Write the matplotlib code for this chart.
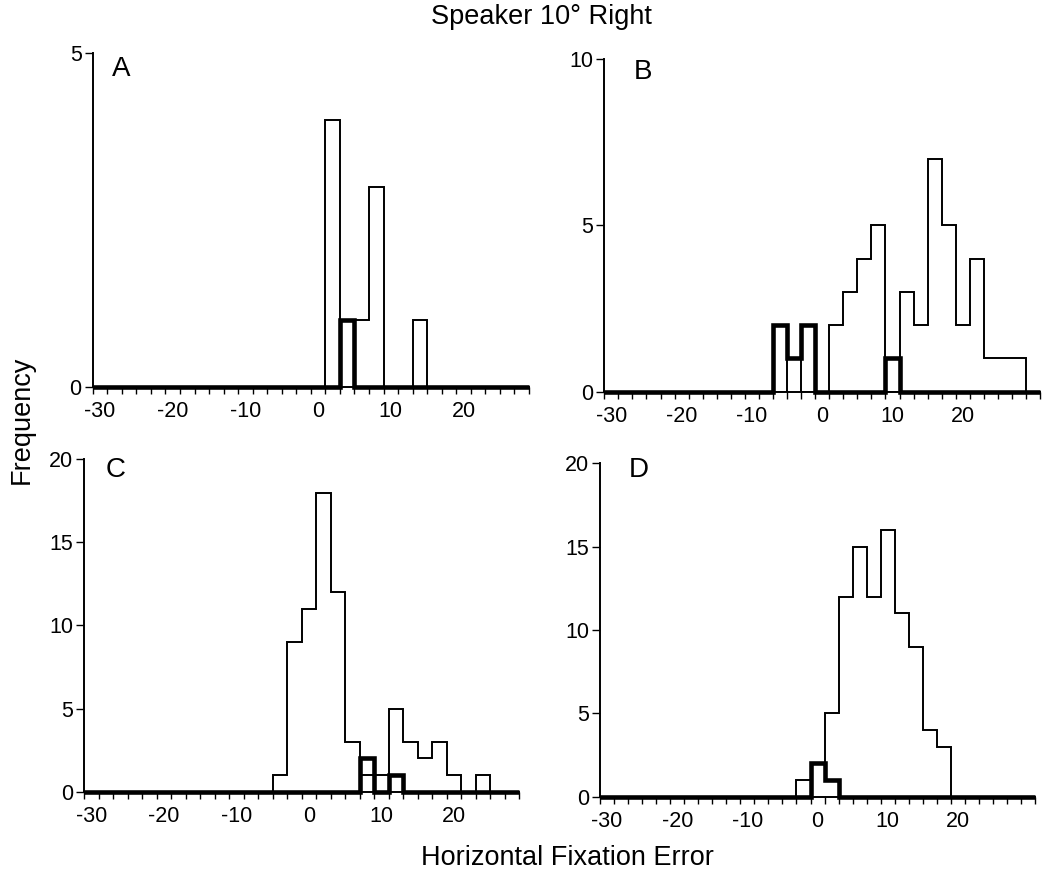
import numpy as np
import matplotlib
matplotlib.use("Agg")
import matplotlib.pyplot as plt

plt.rcParams["font.family"] = ["Liberation Sans", "DejaVu Sans"]

# bin centres (width 2) and counts; open = thin outline, filled = thick outline
a_open_x = [2, 4, 6, 8, 14]
a_open_n = [4, 1, 1, 3, 1]
a_thick_x = [4]
a_thick_n = [1]

b_open_x = [-4, 2, 4, 6, 8, 12, 14, 16, 18, 20, 22, 24, 26, 28]
b_open_n = [1, 2, 3, 4, 5, 3, 2, 7, 5, 2, 4, 1, 1, 1]
b_thick_x = [-6, -4, -2, 10]
b_thick_n = [2, 1, 2, 1]

c_open_x = [-4, -2, 0, 2, 4, 6, 8, 10, 12, 14, 16, 18, 20, 24]
c_open_n = [1, 9, 11, 18, 12, 3, 1, 1, 5, 3, 2, 3, 1, 1]
c_thick_x = [8, 12]
c_thick_n = [2, 1]

d_open_x = [-2, 0, 2, 4, 6, 8, 10, 12, 14, 16, 18]
d_open_n = [1, 2, 5, 12, 15, 12, 16, 11, 9, 4, 3]
d_thick_x = [0, 2]
d_thick_n = [2, 1]

xlabels = [-30, -20, -10, 0, 10, 20]

panels = [
    ("A", [0.0884, 0.5565, 0.4159, 0.3823], 29, 5, [0, 5], a_open_x, a_open_n, a_thick_x, a_thick_n, (0.1068, 0.921)),
    ("B", [0.5761, 0.5508, 0.4154, 0.3812], 31, 10, [0, 5, 10], b_open_x, b_open_n, b_thick_x, b_thick_n, (0.6044, 0.9174)),
    ("C", [0.0801, 0.0921, 0.4147, 0.3812], 29, 20, [0, 5, 10, 15, 20], c_open_x, c_open_n, c_thick_x, c_thick_n, (0.101, 0.461)),
    ("D", [0.5720, 0.0864, 0.4147, 0.3823], 31, 20, [0, 5, 10, 15, 20], d_open_x, d_open_n, d_thick_x, d_thick_n, (0.5996, 0.461)),
]

fig = plt.figure(figsize=(10.49, 8.72), dpi=100)

for letter, rect, xmax, ymax, yticks, ox, on, tx, tn, lpos in panels:
    ax = fig.add_axes(rect)
    edges = np.arange(-31, xmax + 1, 2)
    ax.hist(ox, bins=edges, weights=on, histtype="step", color="black", linewidth=1.4, zorder=2)
    _, _, thick = ax.hist(tx, bins=edges, weights=tn, histtype="step", color="black",
                          linewidth=3.3, zorder=3)
    for p in thick:
        p.set_clip_on(False)

    ax.set_xlim(-31, xmax)
    ax.set_ylim(0, ymax)
    for s in ["top", "right"]:
        ax.spines[s].set_visible(False)
    ax.spines["left"].set_linewidth(1.4)
    ax.spines["bottom"].set_linewidth(1.4)

    ax.set_xticks(edges, labels=[""] * len(edges))
    ax.set_xticks(xlabels, labels=[str(v) for v in xlabels], minor=True)
    ax.tick_params(axis="x", which="major", direction="out", length=5, width=1.0)
    ax.tick_params(axis="x", which="minor", length=0, pad=10, labelsize=15.5)
    ax.set_yticks(yticks)
    ax.tick_params(axis="y", direction="out", length=6, width=1.0, labelsize=15.5, pad=2)

    fig.text(lpos[0], lpos[1], letter, fontsize=20, ha="left", va="center")

fig.text(0.516, 0.9805, "Speaker 10° Right", fontsize=19.5, ha="center", va="center")
fig.text(0.5405, 0.016, "Horizontal Fixation Error", fontsize=19.5, ha="center", va="center")
fig.text(0.021, 0.518, "Frequency", fontsize=19.5, ha="center", va="center", rotation=90)

fig.savefig("out.png", dpi=100)
